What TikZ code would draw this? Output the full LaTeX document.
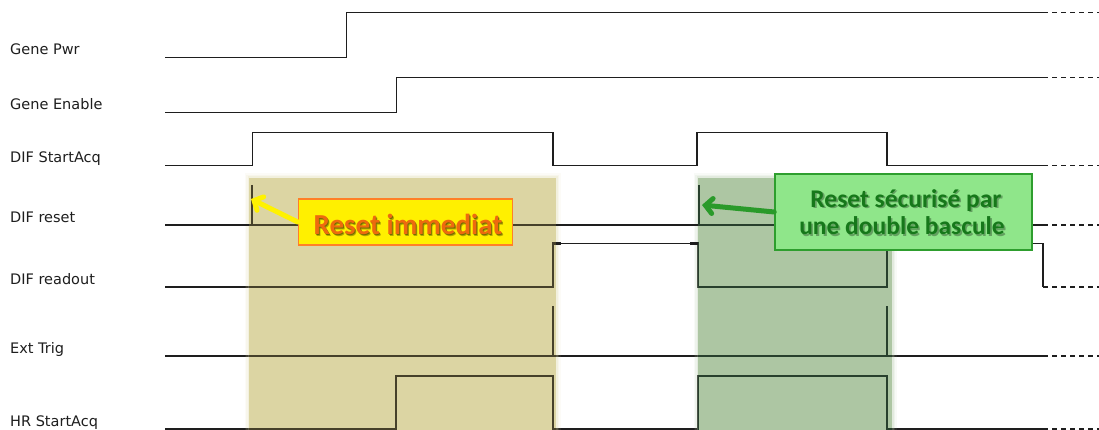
\documentclass[tikz,border=0pt]{standalone}
\usepackage{fontspec}
\setmainfont{DejaVu Sans}
\newfontfamily\calib{Carlito}
\usetikzlibrary{arrows.meta}
\definecolor{sig}{HTML}{1E1E1E}
\definecolor{tanbg}{HTML}{DCD5A3}
\definecolor{tanline}{HTML}{46412A}
\definecolor{grnbg}{HTML}{ADC6A3}
\definecolor{grnline}{HTML}{28402D}
\definecolor{yelfill}{HTML}{FFF000}
\definecolor{yelborder}{HTML}{FF7F27}
\definecolor{yeltext}{HTML}{EE6A0E}
\definecolor{gbfill}{HTML}{8FE68A}
\definecolor{gbborder}{HTML}{2E9E2E}
\definecolor{gbtext}{HTML}{16781A}
\definecolor{yelarrow}{HTML}{FFF200}
\definecolor{grnarrow}{HTML}{2A9A2A}
\newcommand{\sigpaths}[1]{%
 \draw[#1]
 (165,57.7) -- (346.7,57.7) -- (346.7,12.7) -- (1043,12.7)
 (165,112.7) -- (396.7,112.7) -- (396.7,77.7) -- (1043,77.7)
 (165,165.7) -- (252.3,165.7) -- (252.3,132.3) -- (553,132.3) -- (553,165.7) -- (697,165.7) -- (697,132.3) -- (887,132.3) -- (887,165.7) -- (1043,165.7)
 (165,225) -- (1043,225)
 (252,185) -- (252,225)
 (699,185) -- (699,225)
 (165,287) -- (553,287) -- (553,243.5) -- (698,243.5) -- (698,287) -- (887,287) -- (887,243.5) -- (1043,243.5) -- (1043,287)
 (165,356) -- (1043,356)
 (553,306) -- (553,356)
 (887,306) -- (887,356)
 (165,429) -- (396,429) -- (396,376) -- (553,376) -- (553,429) -- (698,429) -- (698,376) -- (887,376) -- (887,429) -- (1043,429);}
\tikzset{
 lbl/.style={font=\fontsize{14.5}{17}\selectfont, text=sig, anchor=base west, inner sep=0},
 dashext/.style={sig, line width=1.5pt, dash pattern=on 4.5pt off 4.5pt},
 ytxt/.style={font=\calib\bfseries\fontsize{29}{31}\selectfont, anchor=base, inner sep=0},
 gtxt/.style={font=\calib\bfseries\fontsize{25.5}{28}\selectfont, anchor=base, inner sep=0},
}
\begin{document}
\begin{tikzpicture}[x=1pt,y=-1pt]
\useasboundingbox (0,0) rectangle (1099,430);
\fill[white] (0,0) rectangle (1099,430);
% signals
\sigpaths{sig, line width=1.5pt}
% shaded regions with soft edges
\foreach \e/\o in {4.5/0.08,3/0.12,1.5/0.18}{
 \fill[tanbg, opacity=\o] (249-\e,178-\e) rectangle (556+\e,430);
 \fill[grnbg, opacity=\o] (698-\e,178-\e) rectangle (892+\e,430);
}
\fill[tanbg] (249,178) rectangle (556,430);
\fill[grnbg] (698,178) rectangle (892,430);
\begin{scope}
 \clip (249,178) rectangle (556,430);
 \sigpaths{tanline, line width=2.6pt}
\end{scope}
\begin{scope}
 \clip (698,178) rectangle (892,430);
 \sigpaths{grnline, line width=2.6pt}
\end{scope}
% thick bits on reset / readout
\draw[sig, line width=2.8pt] (218,225) -- (249,225) (556,225) -- (561,225) (556,243.5) -- (561,243.5)
 (670,225) -- (698,225) (690,243.5) -- (698,243.5);
% dashed extensions
\foreach \yy in {12.7,77.7,165.7,225,287,356,429}{
 \draw[dashext] (1043,\yy) -- (1099,\yy);
}
% labels
\node[lbl] (l1) at (10,55) {Gene Pwr};
\node[lbl] (l2) at (10,110) {Gene Enable};
\node[lbl] (l3) at (10,163) {DIF StartAcq};
\node[lbl] (l4) at (10,222.7) {DIF reset};
\node[lbl] (l5) at (10,284) {DIF readout};
\node[lbl] (l6) at (10,353) {Ext Trig};
\node[lbl] (l7) at (10,426) {HR StartAcq};
% callout 1
\coordinate (ytip) at (251,199);
\coordinate (gtip) at (702,205);
\node[draw=yelborder, line width=1.5pt, fill=yelfill, minimum width=214pt, minimum height=46pt, inner sep=0] (yb) at (405.5,222) {};
\draw[yelarrow, line width=5pt, line cap=round, -{Straight Barb[length=7pt,width=15pt,line cap=round]}] (yb.west) -- (ytip);
\node[ytxt, text=black, opacity=0.3] (ysh) at (409.6,236.6) {Reset immediat};
\node[ytxt, text=black, opacity=0.35] (ysh2) at (408.8,235.8) {Reset immediat};
\node[ytxt, text=yeltext] (yt) at (408,235) {Reset immediat};
% callout 2
\node[draw=gbborder, line width=1.5pt, fill=gbfill, minimum width=257pt, minimum height=76pt, inner sep=0] (gb) at (903.5,212) {};
\draw[grnarrow, line width=5pt, line cap=round, -{Straight Barb[length=7pt,width=15pt,line cap=round]}] (gb.west) -- (gtip);
\node[gtxt, text=black, opacity=0.3] (g1s) at (907.6,208.9) {Reset sécurisé par};
\node[gtxt, text=gbtext] (g1) at (906,207.3) {Reset sécurisé par};
\node[gtxt, text=black, opacity=0.3] (g2s) at (903.6,236.6) {une double bascule};
\node[gtxt, text=gbtext] (g2) at (902,235) {une double bascule};
\end{tikzpicture}
\end{document}
